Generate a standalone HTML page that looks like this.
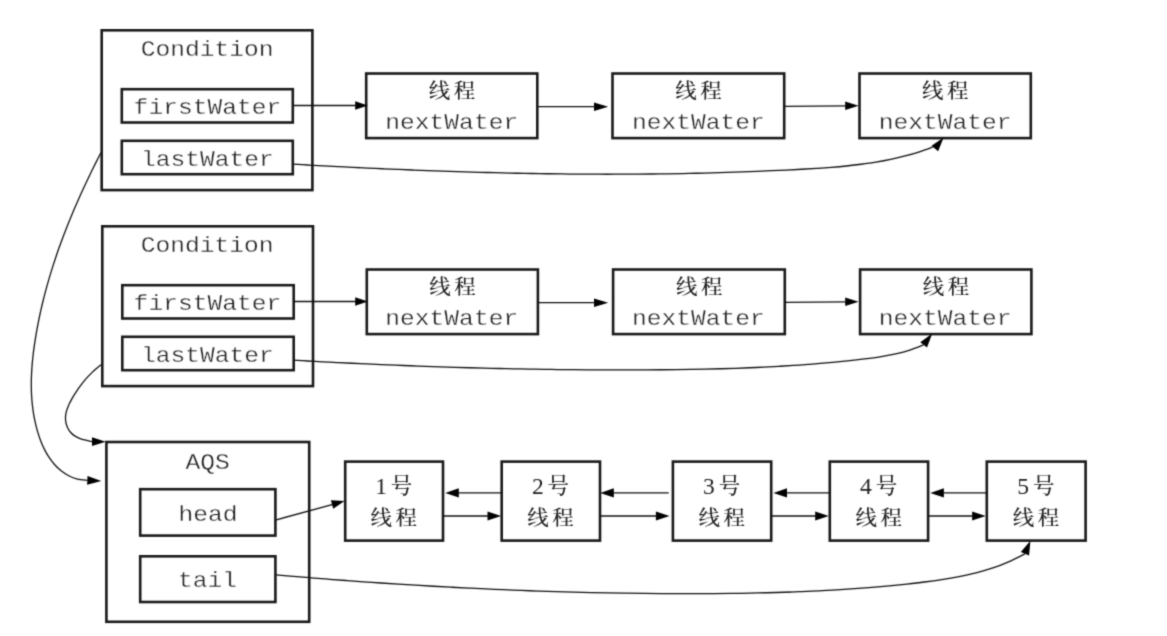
<!DOCTYPE html>
<html lang="zh-CN">
<head>
<meta charset="utf-8">
<title>Condition / AQS</title>
<style>
html,body{margin:0;padding:0;background:#fff;}
body{width:1167px;height:636px;overflow:hidden;}
svg{display:block;}
text{fill:#222;text-anchor:middle;}
.m{font-family:"Liberation Mono",monospace;stroke:#fff;stroke-width:0.35;}
.c{font-family:"Liberation Serif","Noto Serif CJK SC",serif;font-weight:500;}
.n{font-weight:400;}
</style>
</head>
<body>
<svg width="1167" height="636" viewBox="0 0 1167 636">
<defs><filter id="soft" x="0" y="0" width="1167" height="636" filterUnits="userSpaceOnUse" color-interpolation-filters="sRGB"><feConvolveMatrix order="3" kernelMatrix="1 4 1 4 16 4 1 4 1" edgeMode="duplicate" preserveAlpha="false"/></filter></defs>
<rect x="0" y="0" width="1167" height="636" fill="#fff"/>
<g id="diagram" filter="url(#soft)">
<rect x="101.70" y="30.30" width="210.70" height="159.80" fill="none" stroke="#1a1a1a" stroke-width="2.6"/>
<text class="m" transform="translate(207.20,56.30) scale(1,0.9)" font-size="24.6">Condition</text>
<rect x="121.80" y="89.20" width="171.00" height="33.30" fill="none" stroke="#1a1a1a" stroke-width="2.6"/>
<text class="m" transform="translate(207.40,113.80) scale(1,0.9)" font-size="24.6">firstWater</text>
<rect x="121.80" y="140.80" width="171.00" height="33.40" fill="none" stroke="#1a1a1a" stroke-width="2.6"/>
<text class="m" transform="translate(207.40,166.00) scale(1,0.9)" font-size="24.6">lastWater</text>
<rect x="366.20" y="73.50" width="171.10" height="64.60" fill="none" stroke="#1a1a1a" stroke-width="2.6"/>
<text class="c" transform="translate(453.70,98.20) scale(1,0.93)" font-size="21.5" letter-spacing="3.5">线程</text>
<text class="m" transform="translate(451.75,129.40) scale(1,0.9)" font-size="24.6">nextWater</text>
<rect x="612.50" y="73.50" width="171.70" height="64.60" fill="none" stroke="#1a1a1a" stroke-width="2.6"/>
<text class="c" transform="translate(700.30,98.20) scale(1,0.93)" font-size="21.5" letter-spacing="3.5">线程</text>
<text class="m" transform="translate(698.35,129.40) scale(1,0.9)" font-size="24.6">nextWater</text>
<rect x="859.50" y="73.50" width="171.30" height="64.60" fill="none" stroke="#1a1a1a" stroke-width="2.6"/>
<text class="c" transform="translate(947.10,98.20) scale(1,0.93)" font-size="21.5" letter-spacing="3.5">线程</text>
<text class="m" transform="translate(945.15,129.40) scale(1,0.9)" font-size="24.6">nextWater</text>
<polygon points="367.80,105.50 355.20,109.75 355.20,101.25" fill="#000"/>
<path d="M293.30,105.50L356.20,105.50" fill="none" stroke="#111" stroke-width="1.3"/>
<polygon points="608.20,106.70 594.00,111.00 594.00,102.40" fill="#000"/>
<path d="M537.30,106.70L595.00,106.70" fill="none" stroke="#111" stroke-width="1.3"/>
<polygon points="858.60,105.69 845.24,110.12 845.16,101.52" fill="#000"/>
<path d="M784.20,106.40L846.20,105.81" fill="none" stroke="#111" stroke-width="1.3"/>
<rect x="102.30" y="226.30" width="210.70" height="159.80" fill="none" stroke="#1a1a1a" stroke-width="2.6"/>
<text class="m" transform="translate(207.20,252.30) scale(1,0.9)" font-size="24.6">Condition</text>
<rect x="122.30" y="285.20" width="171.40" height="33.30" fill="none" stroke="#1a1a1a" stroke-width="2.6"/>
<text class="m" transform="translate(207.40,309.80) scale(1,0.9)" font-size="24.6">firstWater</text>
<rect x="122.30" y="336.80" width="171.40" height="33.40" fill="none" stroke="#1a1a1a" stroke-width="2.6"/>
<text class="m" transform="translate(207.40,362.00) scale(1,0.9)" font-size="24.6">lastWater</text>
<rect x="366.80" y="269.50" width="171.10" height="64.60" fill="none" stroke="#1a1a1a" stroke-width="2.6"/>
<text class="c" transform="translate(454.30,294.20) scale(1,0.93)" font-size="21.5" letter-spacing="3.5">线程</text>
<text class="m" transform="translate(451.75,325.40) scale(1,0.9)" font-size="24.6">nextWater</text>
<rect x="613.10" y="269.50" width="171.70" height="64.60" fill="none" stroke="#1a1a1a" stroke-width="2.6"/>
<text class="c" transform="translate(700.90,294.20) scale(1,0.93)" font-size="21.5" letter-spacing="3.5">线程</text>
<text class="m" transform="translate(698.35,325.40) scale(1,0.9)" font-size="24.6">nextWater</text>
<rect x="860.10" y="269.50" width="171.30" height="64.60" fill="none" stroke="#1a1a1a" stroke-width="2.6"/>
<text class="c" transform="translate(947.70,294.20) scale(1,0.93)" font-size="21.5" letter-spacing="3.5">线程</text>
<text class="m" transform="translate(945.15,325.40) scale(1,0.9)" font-size="24.6">nextWater</text>
<polygon points="367.80,301.50 355.20,305.75 355.20,297.25" fill="#000"/>
<path d="M293.30,301.50L356.20,301.50" fill="none" stroke="#111" stroke-width="1.3"/>
<polygon points="608.20,302.70 594.00,307.00 594.00,298.40" fill="#000"/>
<path d="M537.30,302.70L595.00,302.70" fill="none" stroke="#111" stroke-width="1.3"/>
<polygon points="858.60,301.69 845.24,306.12 845.16,297.52" fill="#000"/>
<path d="M784.20,302.40L846.20,301.81" fill="none" stroke="#111" stroke-width="1.3"/>
<polygon points="943.60,137.58 938.13,151.13 931.57,145.87" fill="#000"/>
<path d="M293.10,164.20C295.59,164.34 303.06,164.75 308.04,165.02C313.02,165.29 318.00,165.56 322.98,165.82C327.96,166.08 332.94,166.34 337.92,166.59C342.90,166.85 347.88,167.09 352.87,167.34C357.85,167.58 362.83,167.82 367.81,168.05C372.79,168.28 377.78,168.51 382.76,168.73C387.74,168.96 392.72,169.17 397.71,169.38C402.69,169.60 407.67,169.80 412.66,170.00C417.64,170.20 422.62,170.39 427.61,170.58C432.59,170.77 437.58,170.95 442.56,171.12C447.54,171.30 452.53,171.47 457.51,171.63C462.50,171.79 467.48,171.95 472.47,172.09C477.45,172.24 482.44,172.38 487.42,172.52C492.41,172.65 497.39,172.78 502.38,172.90C507.36,173.02 512.35,173.13 517.33,173.23C522.32,173.34 527.30,173.43 532.29,173.52C537.28,173.61 542.26,173.69 547.25,173.76C552.23,173.84 557.22,173.90 562.21,173.96C567.19,174.01 572.18,174.06 577.16,174.10C582.15,174.14 587.14,174.17 592.12,174.19C597.11,174.21 602.09,174.22 607.08,174.23C612.07,174.23 617.05,174.22 622.04,174.21C627.02,174.19 632.01,174.17 637.00,174.13C641.98,174.10 646.97,174.06 651.96,174.00C656.94,173.95 661.93,173.88 666.91,173.81C671.90,173.73 676.89,173.65 681.87,173.56C686.86,173.46 691.84,173.36 696.83,173.24C701.82,173.12 706.80,173.00 711.79,172.86C716.77,172.72 721.76,172.58 726.75,172.42C731.73,172.26 736.72,172.09 741.71,171.92C746.69,171.74 751.68,171.55 756.67,171.35C761.65,171.15 766.64,170.94 771.63,170.72C776.62,170.50 781.61,170.27 786.60,170.03C791.59,169.79 796.58,169.54 801.57,169.27C806.56,169.00 811.55,168.73 816.54,168.41C821.52,168.08 826.50,167.74 831.47,167.34C836.45,166.94 841.41,166.50 846.37,165.99C851.32,165.47 856.27,164.91 861.20,164.26C866.13,163.61 871.04,162.90 875.94,162.08C880.84,161.26 885.72,160.37 890.58,159.34C895.44,158.32 900.28,157.20 905.09,155.94C909.90,154.68 914.69,153.30 919.44,151.76C924.19,150.22 931.24,147.55 933.60,146.70" fill="none" stroke="#111" stroke-width="1.3"/>
<polygon points="932.28,333.56 926.99,347.45 920.31,342.36" fill="#000"/>
<path d="M293.10,360.20C295.55,360.33 302.91,360.74 307.81,361.01C312.71,361.27 317.62,361.53 322.52,361.79C327.42,362.04 332.33,362.29 337.23,362.53C342.13,362.78 347.03,363.01 351.94,363.25C356.84,363.48 361.74,363.71 366.64,363.93C371.55,364.15 376.45,364.37 381.35,364.58C386.26,364.79 391.16,364.99 396.06,365.19C400.96,365.39 405.87,365.58 410.77,365.77C415.67,365.96 420.58,366.14 425.48,366.32C430.38,366.49 435.28,366.66 440.19,366.83C445.09,366.99 449.99,367.15 454.90,367.30C459.80,367.45 464.70,367.60 469.61,367.74C474.51,367.88 479.41,368.01 484.32,368.13C489.22,368.26 494.13,368.38 499.03,368.49C503.93,368.61 508.84,368.72 513.74,368.82C518.65,368.92 523.55,369.01 528.46,369.10C533.36,369.18 538.27,369.26 543.17,369.34C548.08,369.41 552.98,369.48 557.89,369.54C562.79,369.60 567.70,369.65 572.61,369.70C577.51,369.74 582.42,369.78 587.33,369.81C592.23,369.84 597.14,369.87 602.05,369.89C606.96,369.90 611.86,369.91 616.77,369.92C621.68,369.92 626.59,369.91 631.50,369.90C636.41,369.89 641.31,369.87 646.22,369.84C651.13,369.82 656.04,369.78 660.95,369.74C665.86,369.70 670.77,369.65 675.69,369.59C680.60,369.53 685.51,369.46 690.42,369.38C695.33,369.30 700.24,369.21 705.15,369.10C710.06,369.00 714.97,368.88 719.88,368.75C724.79,368.62 729.70,368.47 734.60,368.31C739.51,368.15 744.42,367.97 749.32,367.77C754.23,367.57 759.13,367.36 764.04,367.12C768.94,366.88 773.84,366.63 778.74,366.35C783.64,366.07 788.54,365.77 793.43,365.45C798.33,365.13 803.22,364.78 808.12,364.41C813.01,364.03 817.90,363.64 822.78,363.21C827.67,362.79 832.55,362.34 837.43,361.85C842.32,361.37 847.20,360.87 852.07,360.32C856.95,359.78 861.82,359.23 866.69,358.61C871.55,357.98 876.42,357.35 881.25,356.55C886.07,355.76 890.89,354.91 895.66,353.82C900.42,352.74 905.16,351.54 909.82,350.06C914.49,348.57 921.35,345.76 923.65,344.90" fill="none" stroke="#111" stroke-width="1.3"/>
<rect x="106.40" y="442.00" width="202.80" height="179.80" fill="none" stroke="#1a1a1a" stroke-width="2.6"/>
<text class="m" transform="translate(207.70,468.90) scale(1,0.9)" font-size="24.6">AQS</text>
<rect x="140.20" y="489.20" width="135.20" height="46.40" fill="none" stroke="#1a1a1a" stroke-width="2.6"/>
<text class="m" transform="translate(208.00,520.70) scale(1,0.9)" font-size="24.6">head</text>
<rect x="140.20" y="556.30" width="135.20" height="45.70" fill="none" stroke="#1a1a1a" stroke-width="2.6"/>
<text class="m" transform="translate(207.50,586.50) scale(1,0.9)" font-size="24.6">tail</text>
<rect x="345.20" y="461.60" width="97.80" height="79.00" fill="none" stroke="#1a1a1a" stroke-width="2.6"/>
<text class="c" y="494.00" font-size="21.5"><tspan class="n" x="381.00" font-size="23.5">1</tspan><tspan x="401.55" dy="-1.2">号</tspan></text>
<text class="c" transform="translate(395.55,525.00) scale(1,0.93)" font-size="21.5" letter-spacing="3.5">线程</text>
<rect x="501.70" y="461.60" width="98.30" height="79.00" fill="none" stroke="#1a1a1a" stroke-width="2.6"/>
<text class="c" y="494.00" font-size="21.5"><tspan class="n" x="537.75" font-size="23.5">2</tspan><tspan x="558.30" dy="-1.2">号</tspan></text>
<text class="c" transform="translate(552.30,525.00) scale(1,0.93)" font-size="21.5" letter-spacing="3.5">线程</text>
<rect x="672.90" y="461.60" width="98.30" height="79.00" fill="none" stroke="#1a1a1a" stroke-width="2.6"/>
<text class="c" y="494.00" font-size="21.5"><tspan class="n" x="708.95" font-size="23.5">3</tspan><tspan x="729.50" dy="-1.2">号</tspan></text>
<text class="c" transform="translate(723.50,525.00) scale(1,0.93)" font-size="21.5" letter-spacing="3.5">线程</text>
<rect x="829.80" y="461.60" width="98.30" height="79.00" fill="none" stroke="#1a1a1a" stroke-width="2.6"/>
<text class="c" y="494.00" font-size="21.5"><tspan class="n" x="865.85" font-size="23.5">4</tspan><tspan x="886.40" dy="-1.2">号</tspan></text>
<text class="c" transform="translate(880.40,525.00) scale(1,0.93)" font-size="21.5" letter-spacing="3.5">线程</text>
<rect x="986.80" y="461.60" width="98.80" height="79.00" fill="none" stroke="#1a1a1a" stroke-width="2.6"/>
<text class="c" y="494.00" font-size="21.5"><tspan class="n" x="1023.10" font-size="23.5">5</tspan><tspan x="1043.65" dy="-1.2">号</tspan></text>
<text class="c" transform="translate(1037.65,525.00) scale(1,0.93)" font-size="21.5" letter-spacing="3.5">线程</text>
<polygon points="445.20,492.90 458.80,488.30 458.80,497.50" fill="#000"/>
<path d="M501.70,492.90L457.80,492.90" fill="none" stroke="#111" stroke-width="1.3"/>
<polygon points="600.20,492.90 613.80,488.30 613.80,497.50" fill="#000"/>
<path d="M668.70,492.90L612.80,492.90" fill="none" stroke="#111" stroke-width="1.3"/>
<polygon points="773.40,492.90 787.00,488.30 787.00,497.50" fill="#000"/>
<path d="M829.80,492.90L786.00,492.90" fill="none" stroke="#111" stroke-width="1.3"/>
<polygon points="930.30,492.90 943.90,488.30 943.90,497.50" fill="#000"/>
<path d="M986.80,492.90L942.90,492.90" fill="none" stroke="#111" stroke-width="1.3"/>
<polygon points="501.10,516.00 487.50,520.60 487.50,511.40" fill="#000"/>
<path d="M443.00,516.00L488.50,516.00" fill="none" stroke="#111" stroke-width="1.3"/>
<polygon points="669.50,516.00 655.90,520.60 655.90,511.40" fill="#000"/>
<path d="M600.00,516.00L656.90,516.00" fill="none" stroke="#111" stroke-width="1.3"/>
<polygon points="828.80,516.00 815.20,520.60 815.20,511.40" fill="#000"/>
<path d="M771.20,516.00L816.20,516.00" fill="none" stroke="#111" stroke-width="1.3"/>
<polygon points="985.70,516.00 972.10,520.60 972.10,511.40" fill="#000"/>
<path d="M928.10,516.00L973.10,516.00" fill="none" stroke="#111" stroke-width="1.3"/>
<polygon points="344.57,501.09 333.22,508.82 330.86,500.24" fill="#000"/>
<path d="M275.40,520.10L333.00,504.27" fill="none" stroke="#111" stroke-width="1.3"/>
<polygon points="1030.41,540.76 1029.05,555.52 1020.85,552.08" fill="#000"/>
<path d="M276.00,574.85C278.91,575.10 287.65,575.86 293.48,576.35C299.30,576.84 305.13,577.32 310.96,577.79C316.79,578.26 322.62,578.73 328.45,579.18C334.28,579.63 340.11,580.07 345.95,580.51C351.78,580.94 357.61,581.36 363.45,581.78C369.28,582.19 375.12,582.59 380.95,582.99C386.79,583.38 392.63,583.76 398.46,584.14C404.30,584.51 410.14,584.87 415.98,585.22C421.82,585.58 427.66,585.92 433.50,586.25C439.34,586.58 445.18,586.90 451.02,587.22C456.86,587.53 462.70,587.83 468.55,588.12C474.39,588.41 480.23,588.68 486.08,588.95C491.92,589.22 497.77,589.48 503.61,589.72C509.46,589.97 515.30,590.20 521.15,590.43C526.99,590.65 532.84,590.86 538.68,591.07C544.53,591.27 550.38,591.46 556.22,591.63C562.07,591.81 567.92,591.98 573.77,592.14C579.61,592.29 585.46,592.43 591.31,592.57C597.16,592.70 603.01,592.82 608.85,592.93C614.70,593.04 620.55,593.13 626.40,593.22C632.25,593.30 638.10,593.37 643.95,593.43C649.79,593.49 655.64,593.54 661.49,593.58C667.34,593.61 673.19,593.64 679.04,593.65C684.89,593.66 690.73,593.66 696.58,593.64C702.43,593.63 708.28,593.60 714.13,593.56C719.97,593.52 725.82,593.47 731.67,593.40C737.52,593.33 743.36,593.24 749.21,593.13C755.06,593.03 760.90,592.91 766.75,592.76C772.59,592.61 778.44,592.45 784.28,592.26C790.13,592.07 795.97,591.86 801.81,591.62C807.65,591.38 813.50,591.12 819.34,590.82C825.18,590.53 831.02,590.21 836.85,589.86C842.69,589.51 848.53,589.13 854.37,588.72C860.20,588.30 866.04,587.86 871.87,587.38C877.70,586.89 883.53,586.38 889.36,585.83C895.19,585.27 901.02,584.69 906.85,584.05C912.67,583.41 918.50,582.75 924.31,582.00C930.12,581.25 935.93,580.46 941.71,579.55C947.48,578.64 953.25,577.66 958.98,576.54C964.71,575.42 970.44,574.25 976.08,572.82C981.73,571.39 987.36,569.84 992.87,567.96C998.38,566.09 1003.80,563.90 1009.15,561.54C1014.50,559.18 1022.32,555.09 1024.95,553.80" fill="none" stroke="#111" stroke-width="1.3"/>
<polygon points="101.30,481.04 87.10,484.75 87.50,476.06" fill="#000"/>
<path d="M100.90,152.80C100.19,154.19 98.04,158.36 96.63,161.15C95.23,163.94 93.83,166.74 92.45,169.55C91.07,172.36 89.70,175.17 88.35,178.00C86.99,180.82 85.66,183.66 84.33,186.50C83.01,189.34 81.71,192.19 80.42,195.05C79.13,197.90 77.86,200.77 76.60,203.64C75.35,206.51 74.11,209.40 72.89,212.28C71.68,215.17 70.48,218.07 69.30,220.98C68.12,223.88 66.96,226.79 65.82,229.71C64.68,232.63 63.56,235.56 62.47,238.50C61.37,241.43 60.30,244.38 59.25,247.33C58.19,250.28 57.17,253.24 56.16,256.21C55.16,259.17 54.17,262.15 53.22,265.13C52.26,268.11 51.33,271.10 50.42,274.10C49.51,277.09 48.63,280.10 47.78,283.11C46.92,286.12 46.10,289.14 45.29,292.16C44.49,295.19 43.72,298.22 42.98,301.26C42.23,304.30 41.52,307.35 40.83,310.41C40.14,313.46 39.49,316.53 38.86,319.59C38.23,322.66 37.64,325.74 37.07,328.82C36.51,331.91 35.97,335.00 35.48,338.10C34.98,341.19 34.50,344.30 34.08,347.41C33.65,350.52 33.25,353.64 32.91,356.75C32.57,359.87 32.27,363.00 32.03,366.12C31.79,369.25 31.60,372.37 31.48,375.50C31.35,378.62 31.28,381.75 31.29,384.88C31.30,388.00 31.37,391.12 31.52,394.24C31.68,397.36 31.90,400.48 32.22,403.59C32.53,406.70 32.93,409.80 33.42,412.90C33.91,416.00 34.49,419.09 35.17,422.17C35.86,425.25 36.63,428.34 37.53,431.38C38.42,434.43 39.41,437.48 40.55,440.43C41.68,443.39 42.92,446.32 44.32,449.12C45.72,451.92 47.25,454.66 48.95,457.23C50.65,459.80 52.49,462.29 54.52,464.55C56.54,466.82 58.73,468.96 61.09,470.83C63.46,472.69 66.00,474.39 68.72,475.76C71.45,477.13 74.35,478.27 77.44,479.05C80.54,479.82 85.66,480.18 87.30,480.40" fill="none" stroke="#111" stroke-width="1.3"/>
<polygon points="105.70,441.81 91.97,446.10 92.03,437.30" fill="#000"/>
<path d="M101.00,364.70C100.49,365.11 98.94,366.32 97.94,367.15C96.93,367.98 95.95,368.83 94.99,369.70C94.02,370.57 93.08,371.45 92.15,372.35C91.23,373.25 90.32,374.16 89.43,375.09C88.54,376.02 87.67,376.97 86.81,377.93C85.96,378.89 85.12,379.86 84.30,380.85C83.48,381.84 82.68,382.85 81.89,383.86C81.10,384.88 80.33,385.91 79.57,386.95C78.81,387.99 78.07,389.05 77.34,390.12C76.62,391.18 75.90,392.27 75.21,393.36C74.51,394.45 73.82,395.55 73.16,396.67C72.50,397.79 71.85,398.92 71.23,400.07C70.61,401.22 70.01,402.38 69.45,403.57C68.89,404.75 68.34,405.96 67.86,407.18C67.38,408.40 66.91,409.64 66.55,410.90C66.19,412.16 65.89,413.44 65.72,414.72C65.54,416.00 65.46,417.30 65.49,418.58C65.52,419.86 65.66,421.15 65.90,422.40C66.13,423.65 66.47,424.89 66.91,426.07C67.35,427.25 67.90,428.40 68.54,429.48C69.18,430.56 69.92,431.60 70.75,432.54C71.59,433.48 72.53,434.36 73.56,435.14C74.58,435.91 75.73,436.59 76.91,437.19C78.09,437.80 79.38,438.31 80.65,438.77C81.93,439.23 83.27,439.61 84.56,439.97C85.85,440.33 87.18,440.62 88.42,440.91C89.66,441.20 91.40,441.57 92.00,441.70" fill="none" stroke="#111" stroke-width="1.3"/>
</g>
</svg>
</body>
</html>
